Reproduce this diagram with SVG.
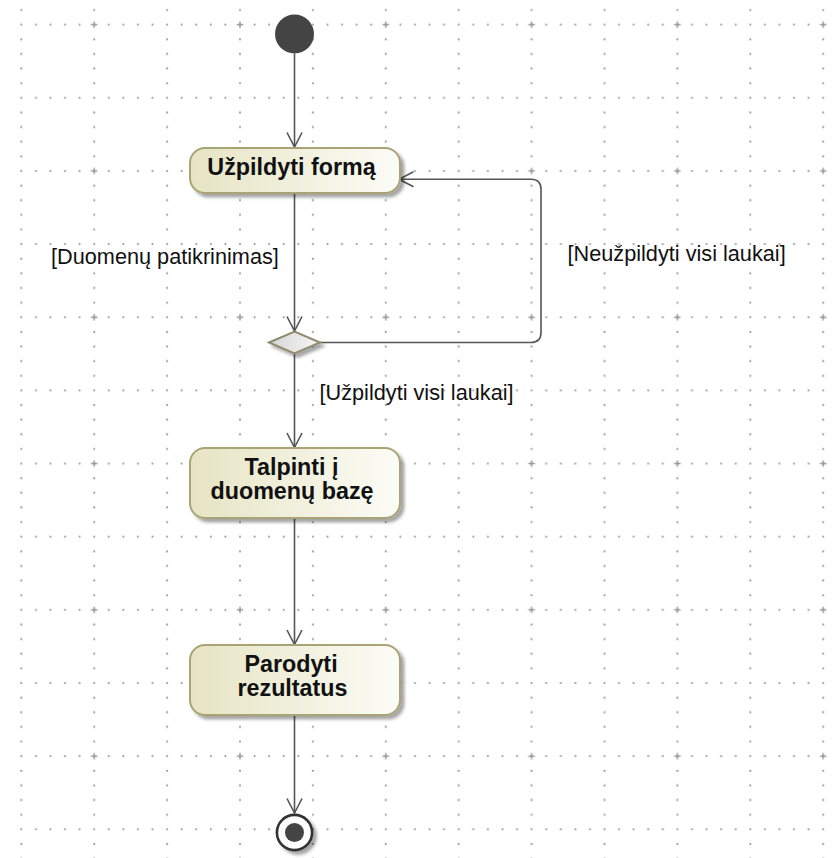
<svg xmlns="http://www.w3.org/2000/svg" width="836" height="858" viewBox="0 0 836 858">
<style>
.act{stroke:#a8a474;stroke-width:2;fill:url(#actg)}
.at{font-family:"Liberation Sans",Arial,sans-serif;font-weight:bold;font-size:23.3px;fill:#111;text-anchor:middle}
.lb{font-family:"Liberation Sans",Arial,sans-serif;font-size:21.7px;fill:#111}
.ed{fill:none;stroke:#555;stroke-width:1.6}
</style>
<defs>
<linearGradient id="actg" x1="0" y1="0" x2="1" y2="0">
<stop offset="0" stop-color="#e6e4c3"/>
<stop offset="1" stop-color="#fcfcf7"/>
</linearGradient>
<linearGradient id="decg" x1="0" y1="0" x2="1" y2="0">
<stop offset="0" stop-color="#d6d6d6"/>
<stop offset="1" stop-color="#f6f6f6"/>
</linearGradient>
<filter id="sh" x="-20%" y="-20%" width="140%" height="160%">
<feDropShadow dx="3.5" dy="3.5" stdDeviation="1.6" flood-color="#000" flood-opacity="0.35"/>
</filter>
<pattern id="grid" patternUnits="userSpaceOnUse" x="14.3" y="17.67" width="72.9" height="73.15">
<g fill="#9c9c9c">
<circle cx="7" cy="7" r="1.1"/><circle cx="21.58" cy="7" r="1.1"/><circle cx="36.16" cy="7" r="1.1"/><circle cx="50.74" cy="7" r="1.1"/><circle cx="65.32" cy="7" r="1.1"/>
<circle cx="7" cy="21.63" r="1.1"/><circle cx="7" cy="36.26" r="1.1"/><circle cx="7" cy="50.89" r="1.1"/><circle cx="7" cy="65.52" r="1.1"/>
</g>
</pattern>
<pattern id="cross" patternUnits="userSpaceOnUse" x="21.3" y="-48.48" width="145.8" height="146.3">
<path d="M69.6,73.15h6.6M72.9,69.85v6.6" stroke="#999" stroke-width="1.4" fill="none"/>
</pattern>
<marker id="arr" viewBox="-16 -9 17 18" refX="0" refY="0" markerWidth="17" markerHeight="18" markerUnits="userSpaceOnUse" orient="auto">
<path d="M-14.5,-7.5L0,0L-14.5,7.5" fill="none" stroke="#555" stroke-width="1.6"/>
</marker>
</defs>
<rect width="836" height="858" fill="#fff"/>
<rect x="19" y="0" width="817" height="858" fill="url(#grid)"/>
<rect x="0" y="0" width="836" height="858" fill="url(#cross)"/>

<g id="connectors">
<path class="ed" d="M294.5,53.5V147" marker-end="url(#arr)"/>
<path class="ed" d="M294.5,193V331" marker-end="url(#arr)"/>
<path class="ed" d="M320,342.5H531Q541,342.5 541,332.5V189.3Q541,179.3 531,179.3H399" marker-end="url(#arr)"/>
<path class="ed" d="M294.5,354V447.5" marker-end="url(#arr)"/>
<path class="ed" d="M294.5,518V644.5" marker-end="url(#arr)"/>
<path class="ed" d="M294.5,715V813" marker-end="url(#arr)"/>
<text class="lb" x="51" y="264">[Duomenų patikrinimas]</text>
<text class="lb" x="567.5" y="260.5">[Neužpildyti visi laukai]</text>
<text class="lb" x="319.5" y="399.5">[Užpildyti visi laukai]</text>
</g>

<g id="initial">
<circle cx="294.5" cy="34" r="19.5" fill="#444"/>
</g>

<g id="uzpildyti">
<rect class="act" x="190" y="148" width="210" height="45" rx="15" filter="url(#sh)"/>
<text class="at" x="291.5" y="175">Užpildyti formą</text>
</g>

<g id="decision">
<path d="M269,342.5L294.5,331.5L320,342.5L294.5,353.5Z" fill="url(#decg)" stroke="#8e8c6c" stroke-width="2" filter="url(#sh)"/>
</g>

<g id="talpinti">
<rect class="act" x="190" y="448" width="210" height="70" rx="15" filter="url(#sh)"/>
<text class="at" x="291.5" y="475">Talpinti į</text>
<text class="at" x="292" y="498.5">duomenų bazę</text>
</g>

<g id="parodyti">
<rect class="act" x="190" y="645" width="210" height="70" rx="15" filter="url(#sh)"/>
<text class="at" x="291" y="672">Parodyti</text>
<text class="at" x="292.5" y="695.5">rezultatus</text>
</g>

<g id="final">
<circle cx="294.5" cy="832.5" r="17.6" fill="#fff" stroke="#333" stroke-width="2.6" filter="url(#sh)"/>
<circle cx="294.5" cy="832.5" r="9.5" fill="#444"/>
</g>
</svg>
